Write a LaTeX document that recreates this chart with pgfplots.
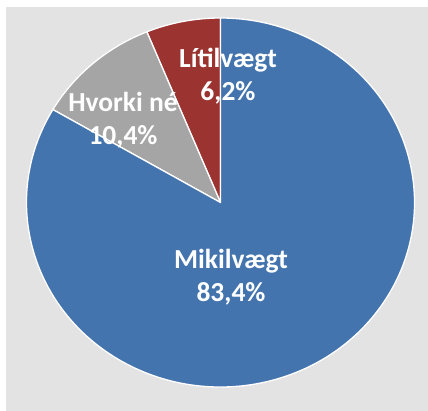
\documentclass[border=0pt]{standalone}
\usepackage{fontspec}
\setmainfont{Carlito}
\usepackage{pgfplots}
\usepackage{pgfplotstable}
\pgfplotsset{compat=1.18}
\definecolor{bgcol}{RGB}{227,227,227}
\definecolor{redcol}{RGB}{155,52,49}
\definecolor{graycol}{RGB}{165,165,165}
\definecolor{bluecol}{RGB}{68,116,174}

% shares in percent, counter-clockwise from 12 o'clock
\pgfplotstableread[col sep=comma]{
name,value
Litilvaegt,6.2
Hvorki,10.4
Mikilvaegt,83.4
}\piedata
\pgfplotstablegetelem{0}{value}\of\piedata \let\vA\pgfplotsretval
\pgfplotstablegetelem{1}{value}\of\piedata \let\vB\pgfplotsretval
\pgfplotstablegetelem{2}{value}\of\piedata \let\vC\pgfplotsretval
\pgfmathsetmacro\aA{90+3.6*\vA}
\pgfmathsetmacro\aB{\aA+3.6*\vB}
\pgfmathsetmacro\aC{\aB+3.6*\vC}

\begin{document}
\begin{tikzpicture}
\begin{axis}[
  x=1pt, y=1pt, scale only axis,
  xmin=0, xmax=428, ymin=0, ymax=410,
  hide axis, clip=false,
]
\fill[white] (axis cs:0,0) rectangle (axis cs:428,410);
\fill[bgcol] (axis cs:6,-10) rectangle (axis cs:440,403);
\begin{scope}[draw=white, line width=1.3pt, line join=round]
\filldraw[fill=redcol] (axis cs:220.5,207.5) -- ++(90:194pt and 184.5pt)
  arc[start angle=90, end angle=\aA, x radius=194pt, y radius=184.5pt] -- cycle;
\filldraw[fill=graycol] (axis cs:220.5,207.5) -- ++(\aA:194pt and 184.5pt)
  arc[start angle=\aA, end angle=\aB, x radius=194pt, y radius=184.5pt] -- cycle;
\filldraw[fill=bluecol] (axis cs:220.5,207.5) -- ++(\aB:194pt and 184.5pt)
  arc[start angle=\aB, end angle=\aC, x radius=194pt, y radius=184.5pt] -- cycle;
\end{scope}
\tikzset{lbl/.style={text=white, align=center,
  font=\fontsize{27.5}{33}\selectfont\bfseries}}
\node[lbl] at (axis cs:228,333.5) {Lítilvægt\\6,2\%};
\node[lbl] at (axis cs:123,290) {Hvorki né\\10,4\%};
\node[lbl] at (axis cs:231,132.5) {Mikilvægt\\83,4\%};
\end{axis}
% page = the axis box only (arc control points lie outside it)
\pgfresetboundingbox
\path (current axis.south west) rectangle (current axis.north east);
\end{tikzpicture}
\end{document}
